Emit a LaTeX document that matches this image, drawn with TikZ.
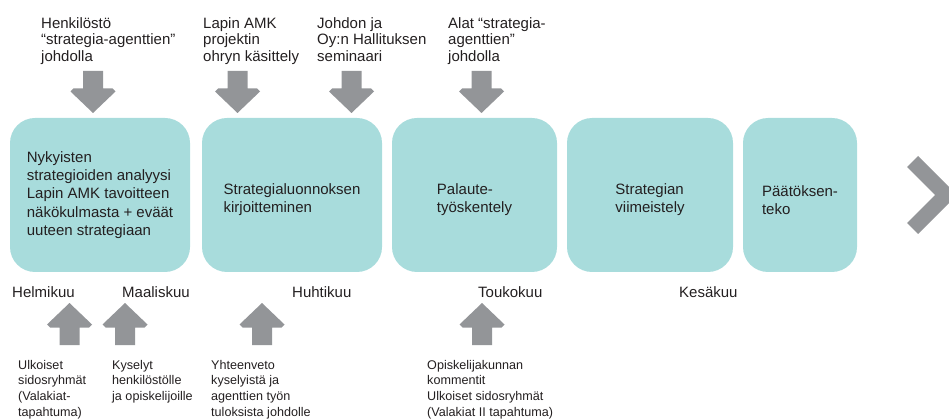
\documentclass[tikz,border=0pt]{standalone}
\usepackage{fontspec}
\setmainfont{Liberation Sans}
\usetikzlibrary{positioning}
\definecolor{stageteal}{HTML}{A8DCDC}
\definecolor{arrowgray}{HTML}{939598}
\definecolor{textdark}{HTML}{231F20}

\begin{document}
\begin{tikzpicture}[x=1pt, y=-1pt,
  stage/.style={rectangle, rounded corners=25pt, minimum height=154pt,
                fill=stageteal, align=left, inner sep=0pt, text=textdark,
                font=\fontsize{15}{18.4}\selectfont},
  twoline/.style={text height=39pt},
  toplabel/.style={anchor=base west, align=left, inner sep=0pt, text=textdark,
                   font=\fontsize{15}{16.7}\selectfont},
  month/.style={anchor=base west, inner sep=0pt, text=textdark,
                font=\fontsize{15}{18}\selectfont},
  botlabel/.style={anchor=base west, align=left, inner sep=0pt, text=textdark,
                   font=\fontsize{12.6}{15.6}\selectfont},
  blockarrow/.pic={\fill[arrowgray] (0,0) -- (22.5,21.5) -- (19.5,24.5)
    -- (10,24.5) -- (10,42) -- (-10,42) -- (-10,24.5) -- (-19.5,24.5)
    -- (-22.5,21.5) -- cycle;}
]
\useasboundingbox (0,0) rectangle (949,419);
\clip (0,0) rectangle (949,419);

% vaiheet
\node[stage, minimum width=180pt] (analyysi) at (100,195)
  {Nykyisten\\strategioiden analyysi\\Lapin AMK tavoitteen\\näkökulmasta + eväät\\uuteen strategiaan};
\node[stage, twoline, minimum width=180pt] (luonnos) at (292,195)
  {Strategialuonnoksen\\kirjoitteminen};
\node[stage, twoline, minimum width=165pt] (palaute) at (474.5,195)
  {Palaute-\\työskentely};
\node[stage, twoline, minimum width=166pt] (viimeistely) at (650,195)
  {Strategian\\viimeistely};
\node[stage, twoline, minimum width=114pt] (paatos) at (800,195)
  {Päätöksen-\\teko};

\fill[arrowgray] (907,167) -- (918,156) -- (957,195) -- (918,234)
  -- (907,223) -- (935,195) -- cycle;

% ylhäältä tulevat (base = viimeinen rivi)
\node[toplabel] (henkilosto) at (41,61.5)
  {Henkilöstö\\“strategia-agenttien”\\johdolla};
\node[toplabel] (ohry) at (203,61.5)
  {Lapin AMK\\projektin\\ohryn käsittely};
\node[toplabel] (seminaari) at (317,61.5)
  {Johdon ja\\Oy:n Hallituksen\\seminaari};
\node[toplabel] (alat) at (448,61.5)
  {Alat “strategia-\\agenttien”\\johdolla};

\pic[yscale=-1] at (93,113) {blockarrow};
\pic[yscale=-1] at (237.5,113) {blockarrow};
\pic[yscale=-1] at (351.5,113) {blockarrow};
\pic[yscale=-1] at (481.5,113) {blockarrow};

% kuukaudet
\node[month] (helmi) at (12,297.3) {Helmikuu};
\node[month] (maalis) at (122,297.3) {Maaliskuu};
\node[month] (huhti) at (292,297.3) {Huhtikuu};
\node[month] (touko) at (478,297.3) {Toukokuu};
\node[month] (kesa) at (679,297.3) {Kesäkuu};

% alhaalta tulevat
\pic at (69.5,303) {blockarrow};
\pic at (125,303) {blockarrow};
\pic at (262,303) {blockarrow};
\pic at (482,303) {blockarrow};

\node[botlabel] (ulkoiset) at (18,416.1)
  {Ulkoiset\\sidosryhmät\\(Valakiat-\\tapahtuma)};
\node[botlabel] (kyselyt) at (112,400.5)
  {Kyselyt\\henkilöstölle\\ja opiskelijoille};
\node[botlabel] (yhteenveto) at (211,416.1)
  {Yhteenveto\\kyselyistä ja\\agenttien työn\\tuloksista johdolle};
\node[botlabel] (opiskelijat) at (427,416.1)
  {Opiskelijakunnan\\kommentit\\Ulkoiset sidosryhmät\\(Valakiat II tapahtuma)};
\end{tikzpicture}
\end{document}
